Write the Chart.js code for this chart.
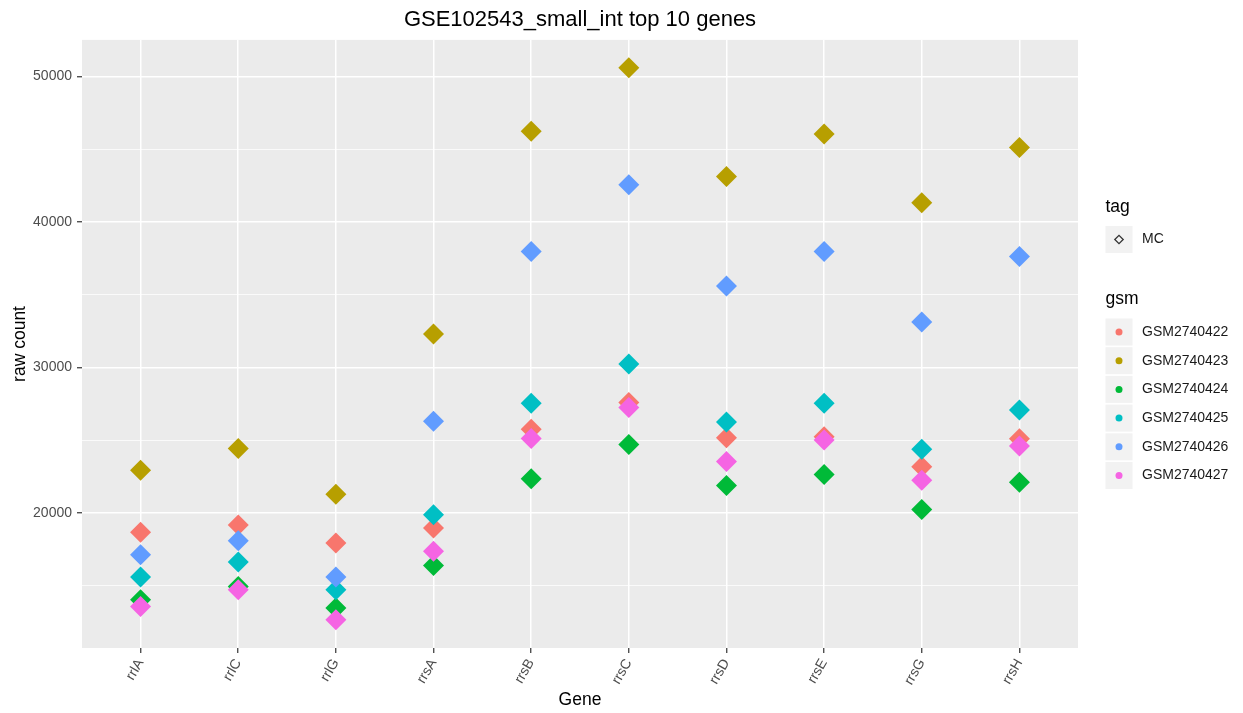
<!DOCTYPE html>
<html>
<head>
<meta charset="utf-8">
<title>GSE102543_small_int top 10 genes</title>
<script src="https://cdn.jsdelivr.net/npm/chart.js@4/dist/chart.umd.min.js"></script>
<style>
  html, body { margin: 0; padding: 0; background: #fff; }
  #wrap { width: 1243px; height: 713px; }
</style>
</head>
<body>
<div id="wrap"><canvas id="chart" width="1243" height="713"></canvas></div>
<script>
/* =============================================
   GSE102543_small_int — top 10 genes, raw counts
   ggplot-style dot chart with Chart.js
   ============================================= */

const GENES = ['rrlA', 'rrlC', 'rrlG', 'rrsA', 'rrsB', 'rrsC', 'rrsD', 'rrsE', 'rrsG', 'rrsH'];

const GSM2740422 = [18670, 19170, 17940, 18970, 25750, 27590, 25170, 25240, 23170, 25100];
const GSM2740423 = [22930, 24430, 21280, 32290, 46220, 50580, 43120, 46040, 41310, 45110];
const GSM2740424 = [14030, 14950, 13460, 16390, 22350, 24710, 21880, 22640, 20230, 22110];
const GSM2740425 = [15600, 16630, 14720, 19880, 27540, 30230, 26250, 27540, 24370, 27080];
const GSM2740426 = [17130, 18090, 15600, 26300, 37960, 42550, 35600, 37960, 33120, 37610];
const GSM2740427 = [13570, 14720, 12660, 17360, 25120, 27240, 23540, 25010, 22250, 24590];

const SAMPLES = ['GSM2740422', 'GSM2740423', 'GSM2740424', 'GSM2740425', 'GSM2740426', 'GSM2740427'];
const SERIES  = [GSM2740422, GSM2740423, GSM2740424, GSM2740425, GSM2740426, GSM2740427];
const COLORS  = ['#F8766D', '#B79F00', '#00BA38', '#00BFC4', '#619CFF', '#F564E3'];
const TAGS    = ['MC'];

const Y_MAJOR = [20000, 30000, 40000, 50000];
const Y_MINOR = [15000, 25000, 35000, 45000];

const FONT = '"Liberation Sans", Arial, Helvetica, sans-serif';
Chart.defaults.font.family = FONT;

const isMajor = v => Y_MAJOR.includes(v);

// panel + legend, drawn around the library's own marks
const ggPanel = {
  id: 'ggPanel',
  beforeDraw(chart) {
    const { ctx, chartArea: a } = chart;
    ctx.save();
    ctx.fillStyle = '#FFFFFF';
    ctx.fillRect(0, 0, chart.width, chart.height);
    ctx.fillStyle = '#EBEBEB';
    ctx.fillRect(a.left, a.top, a.right - a.left, a.bottom - a.top);
    ctx.restore();
  },
  afterDraw(chart) {
    const ctx = chart.ctx;
    const x0 = 1105.5, keyW = 27, textX = 1142;
    ctx.save();
    ctx.textBaseline = 'middle';
    ctx.textAlign = 'left';

    // -- tag legend --
    ctx.fillStyle = '#000000';
    ctx.font = `17.5px ${FONT}`;
    ctx.fillText('tag', x0, 207);
    TAGS.forEach((t, i) => {
      const top = 226 + i * 28.8;
      ctx.fillStyle = '#F2F2F2';
      ctx.fillRect(x0, top, keyW, 27);
      const cx = x0 + keyW / 2, cy = top + 13.5, r = 4.2;
      ctx.beginPath();
      ctx.moveTo(cx - r, cy); ctx.lineTo(cx, cy - r);
      ctx.lineTo(cx + r, cy); ctx.lineTo(cx, cy + r);
      ctx.closePath();
      ctx.strokeStyle = '#333333';
      ctx.lineWidth = 1.3;
      ctx.stroke();
      ctx.fillStyle = '#1A1A1A';
      ctx.font = `14px ${FONT}`;
      ctx.fillText(t, textX, cy);
    });

    // -- gsm legend --
    ctx.fillStyle = '#000000';
    ctx.font = `17.5px ${FONT}`;
    ctx.fillText('gsm', x0, 299);
    SAMPLES.forEach((s, i) => {
      const top = 318.5 + i * 28.7;
      ctx.fillStyle = '#F2F2F2';
      ctx.fillRect(x0, top, keyW, 27);
      ctx.beginPath();
      ctx.arc(x0 + keyW / 2, top + 13.5, 3.5, 0, Math.PI * 2);
      ctx.fillStyle = COLORS[i];
      ctx.fill();
      ctx.fillStyle = '#1A1A1A';
      ctx.font = `14px ${FONT}`;
      ctx.fillText(s, textX, top + 13.5);
    });
    ctx.restore();
  },
};

const datasets = SAMPLES.map((name, i) => ({
  label: name,
  data: SERIES[i].map((v, g) => ({ x: g, y: v })),
  backgroundColor: COLORS[i],
  borderWidth: 0,
  pointStyle: 'rectRot',
  pointRadius: 10.5,
  pointHoverRadius: 10.5,
  order: SAMPLES.length - i, // last sample drawn on top, as in ggplot
}));

new Chart(document.getElementById('chart'), {
  type: 'scatter',
  data: { datasets },
  plugins: [ggPanel],
  options: {
    responsive: false,
    animation: false,
    events: [],
    layout: { padding: { left: 0, right: 165, top: 0, bottom: 0 } },
    plugins: {
      legend: { display: false },
      tooltip: { enabled: false },
      title: {
        display: true,
        text: 'GSE102543_small_int top 10 genes',
        color: '#000000',
        fullSize: false,
        font: { size: 22, weight: 'normal' },
        padding: { top: 7, bottom: 6.5 },
      },
    },
    scales: {
      x: {
        type: 'linear',
        min: -0.6,
        max: GENES.length - 0.4,
        afterBuildTicks: s => { s.ticks = GENES.map((_, i) => ({ value: i })); },
        afterFit: s => { s.height = 65; },
        border: { display: false },
        grid: { color: '#FFFFFF', lineWidth: 1.5, tickColor: '#333333', tickLength: 5, tickWidth: 1.2 },
        ticks: {
          autoSkip: false,
          minRotation: 60,
          maxRotation: 60,
          padding: 3,
          color: '#4D4D4D',
          font: { size: 14 },
          callback: v => GENES[v],
        },
        title: {
          display: true,
          text: 'Gene',
          color: '#000000',
          font: { size: 17.5 },
          padding: { top: 0, bottom: 2.5 },
        },
      },
      y: {
        min: 10720,
        max: 52500,
        afterBuildTicks: s => {
          s.ticks = [...Y_MINOR, ...Y_MAJOR].sort((a, b) => a - b).map(v => ({ value: v }));
        },
        afterFit: s => { s.width = 82; },
        border: { display: false },
        grid: {
          color: '#FFFFFF',
          lineWidth: c => (isMajor(c.tick.value) ? 1.5 : 0.75),
          tickColor: c => (isMajor(c.tick.value) ? '#333333' : 'rgba(0,0,0,0)'),
          tickLength: 5,
          tickWidth: 1.2,
        },
        ticks: {
          autoSkip: false,
          padding: 5,
          color: '#4D4D4D',
          font: { size: 14 },
          callback: v => (isMajor(v) ? String(v) : ''),
        },
        title: {
          display: true,
          text: 'raw count',
          color: '#000000',
          font: { size: 17.5 },
          padding: { top: 9.5, bottom: 0 },
        },
      },
    },
  },
});
</script>
</body>
</html>
